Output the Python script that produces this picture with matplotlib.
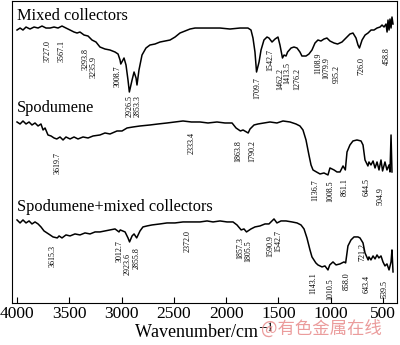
import matplotlib
matplotlib.use('Agg')
import matplotlib.pyplot as plt

plt.rcParams['font.family'] = ['Liberation Serif', 'DejaVu Serif']
plt.rcParams['mathtext.fontset'] = 'stix'

# spectra: wavenumber (cm-1), transmittance (a.u., stacked)
wn_mixed = [4000, 3971, 3943, 3914, 3876, 3837, 3799, 3761, 3723, 3684, 3646, 3608, 3570, 3532,
            3493, 3455, 3426, 3398, 3359, 3321, 3283, 3245, 3207, 3159, 3111, 3063, 3034, 3015,
            3008, 2977, 2958, 2939, 2926, 2900, 2881, 2862, 2853, 2834, 2805, 2767, 2729, 2681,
            2633, 2585, 2537, 2489, 2442, 2394, 2346, 2298, 2250, 2155, 2059, 1964, 1868, 1792,
            1763, 1744, 1725, 1710, 1686, 1667, 1639, 1610, 1591, 1562, 1533, 1505, 1486, 1462,
            1447, 1428, 1413, 1380, 1352, 1323, 1295, 1276, 1237, 1209, 1180, 1151, 1123, 1094,
            1065, 1037, 1008, 969, 935, 893, 855, 817, 788, 759, 740, 726, 701, 672, 644, 615,
            587, 558, 529, 510, 491, 472, 462, 453, 443, 434, 424, 415, 405]
t_mixed = [27.3, 27.5, 27.3, 27.6, 27.4, 27.6, 27.5, 27.7, 27.5, 27.5, 27.6, 27.5, 27.7, 27.5,
           27.3, 27.1, 27.0, 27.1, 26.8, 26.7, 26.3, 26.1, 25.6, 25.4, 25.3, 25.1, 24.9, 24.3,
           23.9, 24.5, 23.8, 22.3, 21.1, 22.3, 23.1, 22.5, 21.8, 23.3, 24.8, 25.5, 25.8, 25.9,
           26.1, 26.2, 26.3, 26.6, 27.0, 27.2, 27.4, 27.5, 27.5, 27.5, 27.5, 27.4, 27.5, 27.5,
           27.3, 26.5, 25.1, 23.1, 24.1, 25.3, 26.3, 26.6, 26.5, 26.1, 26.4, 26.6, 25.8, 24.5,
           24.8, 24.7, 25.1, 25.5, 25.6, 25.5, 25.1, 24.7, 24.7, 24.9, 25.3, 26.0, 26.3, 26.2,
           26.4, 26.5, 26.2, 26.0, 25.9, 26.1, 26.5, 26.9, 27.0, 26.5, 25.8, 25.5, 26.3, 26.8,
           27.0, 27.3, 27.3, 27.5, 27.6, 27.8, 27.6, 27.9, 27.1, 28.3, 27.3, 28.4, 27.5, 28.6, 27.9]

wn_spod = [4000, 3971, 3943, 3914, 3885, 3857, 3828, 3799, 3771, 3751, 3732, 3704, 3675, 3646,
           3620, 3589, 3560, 3532, 3493, 3455, 3417, 3369, 3321, 3273, 3207, 3159, 3111, 3044,
           2996, 2948, 2891, 2824, 2729, 2652, 2566, 2490, 2413, 2333, 2250, 2174, 2088, 2012,
           1944, 1906, 1864, 1839, 1790, 1772, 1734, 1696, 1639, 1581, 1515, 1457, 1390, 1333,
           1295, 1266, 1237, 1209, 1189, 1170, 1137, 1103, 1065, 1027, 1008, 969, 941, 912,
           883, 861, 845, 817, 788, 750, 711, 692, 673, 645, 635, 616, 596, 577, 558, 539,
           520, 505, 482, 463, 443, 434, 424, 415]
t_spod = [18.1, 17.9, 18.2, 17.9, 18.1, 17.8, 18.0, 17.7, 17.9, 17.3, 17.5, 16.8, 16.7, 16.5,
          16.4, 16.6, 16.3, 16.6, 16.4, 16.6, 16.4, 16.6, 16.5, 16.7, 16.8, 17.0, 16.9, 17.2,
          17.2, 17.5, 17.6, 17.7, 17.8, 17.9, 18.0, 18.1, 18.2, 18.1, 18.1, 18.0, 18.1, 18.0,
          18.0, 17.5, 17.2, 17.3, 17.0, 17.4, 17.8, 17.9, 18.0, 18.1, 18.0, 18.2, 18.1, 17.9,
          17.7, 17.3, 16.3, 14.8, 13.8, 13.3, 13.1, 12.9, 13.0, 12.8, 13.5, 13.3, 13.1, 13.1,
          13.7, 13.3, 15.1, 15.8, 16.2, 16.3, 16.2, 15.8, 14.3, 13.7, 14.1, 13.8, 14.2, 13.5, 14.1, 13.3,
          14.3, 13.2, 14.1, 13.3, 13.8, 13.1, 16.8, 13.1]

wn_both = [4000, 3971, 3943, 3914, 3885, 3857, 3828, 3799, 3771, 3742, 3713, 3684, 3656, 3615,
           3598, 3570, 3532, 3493, 3446, 3398, 3350, 3302, 3254, 3207, 3159, 3111, 3063, 3025,
           3013, 2967, 2939, 2924, 2900, 2881, 2856, 2824, 2796, 2757, 2709, 2633, 2566, 2490,
           2413, 2372, 2250, 2183, 2126, 2059, 1992, 1935, 1897, 1857, 1830, 1806, 1763, 1725,
           1677, 1629, 1591, 1572, 1543, 1515, 1476, 1428, 1371, 1323, 1285, 1256, 1228, 1199,
           1180, 1143, 1123, 1084, 1056, 1027, 1010, 979, 950, 912, 874, 858, 836, 807, 778,
           740, 721, 692, 673, 643, 635, 616, 596, 577, 558, 540, 520, 501, 482, 463, 443,
           424, 415, 405]
t_both = [8.3, 8.0, 8.3, 8.0, 8.2, 7.9, 8.1, 7.9, 7.6, 7.2, 7.0, 6.8, 6.6, 6.5,
          6.7, 6.5, 6.8, 6.7, 6.9, 6.8, 7.0, 6.9, 7.1, 7.1, 7.2, 7.3, 7.4, 7.1,
          7.3, 7.1, 6.5, 6.1, 6.7, 6.9, 6.5, 7.2, 7.6, 7.7, 7.8, 7.9, 8.0, 8.0,
          8.1, 8.1, 8.1, 8.2, 8.1, 8.2, 8.1, 8.1, 7.8, 7.3, 7.4, 7.1, 7.4, 7.6,
          7.7, 7.9, 7.9, 8.1, 8.4, 8.0, 8.2, 8.2, 8.1, 8.0, 7.8, 7.4, 6.5, 5.3,
          4.6, 4.0, 3.8, 3.6, 3.7, 3.3, 3.8, 4.1, 3.8, 3.9, 4.1, 4.0, 5.7, 6.3, 6.6,
          6.6, 6.5, 6.0, 5.0, 4.3, 4.6, 4.3, 4.7, 4.4, 4.8, 4.5, 4.7, 4.1, 3.7, 3.9, 3.3,
          4.1, 5.3, 3.1]

# peak labels: text, x position (cm-1), top of text (a.u.)
labels_mixed = ['3727.0', '3567.1', '3293.8', '3235.9', '3008.7', '2926.5', '2853.3', '1709.7',
                '1542.7', '1462.2', '1413.5', '1276.2', '1108.9', '1079.9', '935.2', '726.0', '458.8']
lx_mixed = [3704, 3570, 3345, 3268, 3034, 2920, 2843, 1706, 1581, 1486, 1419, 1323, 1123, 1046, 941, 711, 463]
ly_mixed = [26.3, 26.3, 25.5, 24.7, 23.8, 20.8, 20.8, 22.6, 25.4, 23.5, 24.1, 23.5, 25.1, 24.6, 23.8, 24.6, 25.6]

labels_spod = ['3619.7', '2333.4', '1863.8', '1790.2', '1136.7', '1008.5', '861.1', '644.5', '504.9']
lx_spod = [3608, 2327, 1887, 1753, 1151, 1008, 864, 654, 529]
ly_spod = [15.1, 17.1, 16.3, 16.3, 12.4, 12.3, 12.5, 12.5, 11.6]

labels_both = ['3615.3', '3012.7', '2923.6', '2855.8', '2372.0', '1857.3', '1805.5', '1590.9',
               '1542.7', '1143.1', '1010.5', '858.0', '721.2', '643.4', '539.5']
lx_both = [3656, 3015, 2939, 2853, 2365, 1868, 1792, 1581, 1505, 1170, 1008, 845, 701, 654, 482]
ly_both = [5.8, 6.3, 5.0, 5.6, 7.3, 6.6, 6.3, 6.8, 7.3, 3.1, 2.5, 3.1, 6.0, 2.8, 2.3]

fig = plt.figure(figsize=(4, 3.45), dpi=100)
ax = fig.add_axes([0.03, 0.122, 0.9625, 0.875])

for wn, t in [(wn_mixed, t_mixed), (wn_spod, t_spod), (wn_both, t_both)]:
    ax.plot(wn, t, color='black', lw=1.1)

for labs, lx, ly in [(labels_mixed, lx_mixed, ly_mixed), (labels_spod, lx_spod, ly_spod),
                     (labels_both, lx_both, ly_both)]:
    for s, x, y in zip(labs, lx, ly):
        ax.text(x, y, s, rotation=90, ha='center', va='top', fontsize=5.8)

ax.text(0.013, 0.937, 'Mixed collectors', transform=ax.transAxes, fontsize=11.8, va='baseline')
ax.text(0.013, 0.632, 'Spodumene', transform=ax.transAxes, fontsize=11.8, va='baseline')
ax.text(0.013, 0.305, 'Spodumene+mixed collectors', transform=ax.transAxes, fontsize=11.8, va='baseline')

ax.set_xlim(4048, 367)
ax.set_ylim(0, 30.2)
ax.set_xticks([4000, 3500, 3000, 2500, 2000, 1500, 1000, 500])
ax.set_yticks([])
ax.tick_params(axis='x', direction='in', length=4, pad=2, labelsize=12.5)

fig.text(0.51, 0.005, 'Wavenumber/cm$^{-1}$', ha='center', va='bottom', fontsize=13)
fig.text(0.653, 0.032, '@有色金属在线', fontsize=12.5, color='#eb9c9c',
         family=['Noto Sans CJK SC', 'DejaVu Sans'], va='baseline')

fig.savefig('out.png', dpi=100)
